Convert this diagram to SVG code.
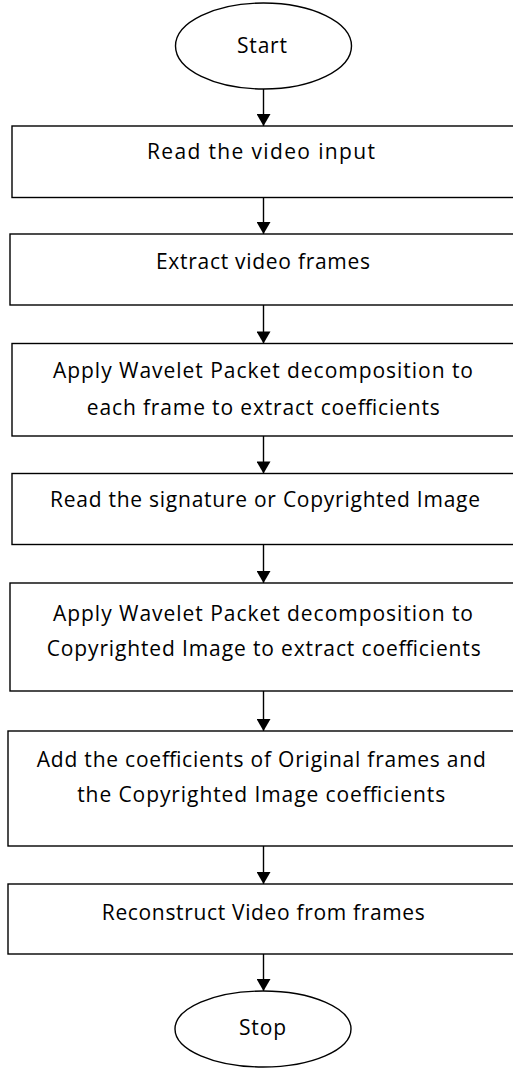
<svg xmlns="http://www.w3.org/2000/svg" width="513" height="1068" viewBox="0 0 513 1068">
<style>
.box{fill:#fff;stroke:#000;stroke-width:1.4}
.term{fill:#fff;stroke:#000;stroke-width:1.4}
.lbl{font-family:"Open Sans","Liberation Sans",sans-serif;font-size:21px;fill:#000;text-anchor:middle}
.conn{stroke:#000;stroke-width:1.4;fill:none}
</style>
<defs>
<marker id="arr" markerUnits="userSpaceOnUse" markerWidth="16" markerHeight="14" viewBox="0 0 16 14" refX="14" refY="7" orient="auto">
<path d="M2,0 L14,7 L2,14 Z" fill="#000"/>
</marker>
</defs>
<rect width="513" height="1068" fill="#fff"/>
<g id="connectors">
<line class="conn" x1="263.5" y1="89" x2="263.5" y2="126" marker-end="url(#arr)"/>
<line class="conn" x1="263.5" y1="197.5" x2="263.5" y2="234" marker-end="url(#arr)"/>
<line class="conn" x1="263.5" y1="305" x2="263.5" y2="343.5" marker-end="url(#arr)"/>
<line class="conn" x1="263.5" y1="436" x2="263.5" y2="473.5" marker-end="url(#arr)"/>
<line class="conn" x1="263.5" y1="544.5" x2="263.5" y2="583" marker-end="url(#arr)"/>
<line class="conn" x1="263.5" y1="691" x2="263.5" y2="731" marker-end="url(#arr)"/>
<line class="conn" x1="263.5" y1="846" x2="263.5" y2="884" marker-end="url(#arr)"/>
<line class="conn" x1="263.5" y1="954" x2="263.5" y2="991" marker-end="url(#arr)"/>
</g>
<g id="start">
<ellipse class="term" cx="263.5" cy="46" rx="88" ry="43"/>
<text class="lbl" x="262" y="53" textLength="50" lengthAdjust="spacing">Start</text>
</g>
<g id="read-video">
<rect class="box" x="12" y="126" width="520" height="71.5"/>
<text class="lbl" x="261" y="159" textLength="228" lengthAdjust="spacing">Read the video input</text>
</g>
<g id="extract-frames">
<rect class="box" x="10" y="234" width="520" height="71"/>
<text class="lbl" x="263" y="269" textLength="214" lengthAdjust="spacing">Extract video frames</text>
</g>
<g id="wpd-frames">
<rect class="box" x="12" y="343.5" width="520" height="92.5"/>
<text class="lbl" x="263" y="378" textLength="420" lengthAdjust="spacing">Apply Wavelet Packet decomposition to</text>
<text class="lbl" x="263.3" y="415" textLength="353" lengthAdjust="spacing">each frame to extract coefficients</text>
</g>
<g id="read-signature">
<rect class="box" x="12" y="473.5" width="520" height="71"/>
<text class="lbl" x="265" y="506.5" textLength="430" lengthAdjust="spacing">Read the signature or Copyrighted Image</text>
</g>
<g id="wpd-image">
<rect class="box" x="10" y="583" width="520" height="108"/>
<text class="lbl" x="263" y="620.5" textLength="420" lengthAdjust="spacing">Apply Wavelet Packet decomposition to</text>
<text class="lbl" x="263.7" y="656" textLength="434" lengthAdjust="spacing">Copyrighted Image to extract coefficients</text>
</g>
<g id="add-coeffs">
<rect class="box" x="8" y="731" width="520" height="115"/>
<text class="lbl" x="261.3" y="766.5" textLength="449" lengthAdjust="spacing">Add the coefficients of Original frames and</text>
<text class="lbl" x="261.2" y="801.5" textLength="368" lengthAdjust="spacing">the Copyrighted Image coefficients</text>
</g>
<g id="reconstruct">
<rect class="box" x="8" y="884" width="520" height="70"/>
<text class="lbl" x="263.3" y="920" textLength="323" lengthAdjust="spacing">Reconstruct Video from frames</text>
</g>
<g id="stop">
<ellipse class="term" cx="263" cy="1029" rx="88" ry="38"/>
<text class="lbl" x="262.5" y="1035" textLength="47" lengthAdjust="spacing">Stop</text>
</g>
</svg>
